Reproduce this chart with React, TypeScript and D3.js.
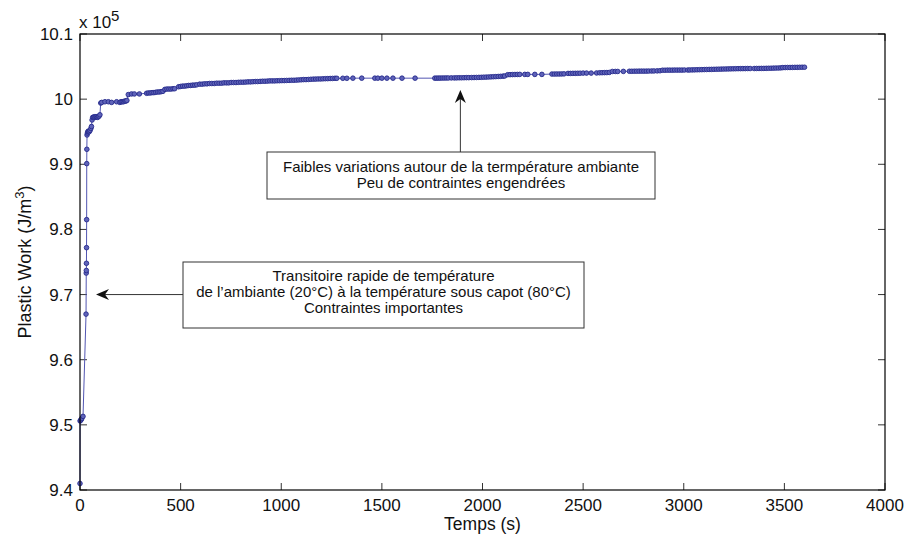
import React from "react";
import * as d3 from "d3";

// Time (s) and plastic work (x 1e5 J/m^3)
const curvePoints: [number, number][] = [
  [0, 9.41], [0.5, 9.506], [3, 9.507], [6, 9.508], [9, 9.51], [15, 9.513], [30, 9.67],
  [31, 9.733], [31.5, 9.737], [32, 9.748], [32.5, 9.772], [33, 9.815], [33.5, 9.901], [34, 9.923],
  [35, 9.945], [37, 9.948], [39, 9.95], [42, 9.951], [46, 9.95], [50, 9.952], [54, 9.955], [57, 9.958],
  [60, 9.968], [63, 9.972], [67, 9.972], [71, 9.973], [75, 9.972], [79, 9.973], [83, 9.973], [87, 9.972],
  [91, 9.973], [95, 9.974], [99, 9.976], [103, 9.994], [108, 9.995], [124, 9.996], [141, 9.996],
  [157, 9.995], [182, 9.996], [198, 9.995], [204, 9.996], [210, 9.996], [216, 9.996], [222, 9.997],
  [228, 9.997], [233, 9.998], [240, 10.007], [256, 10.008], [270, 10.008], [295, 10.008],
  [331, 10.009], [340, 10.0095], [349, 10.0095], [358, 10.01], [367, 10.01], [376, 10.0105],
  [385, 10.011], [394, 10.011], [403, 10.0115], [412, 10.012], [422, 10.015], [432, 10.0155],
  [442, 10.0155], [452, 10.0155], [462, 10.016], [470, 10.016], [490, 10.019], [500, 10.0195],
  [510, 10.02], [520, 10.02], [530, 10.0205], [540, 10.021], [550, 10.021], [560, 10.0215],
  [570, 10.0215], [580, 10.022], [595, 10.023], [607, 10.023], [619, 10.0235], [631, 10.0235],
  [643, 10.024], [655, 10.024], [667, 10.024], [679, 10.0245], [691, 10.0245], [703, 10.0245],
  [715, 10.025], [727, 10.025], [739, 10.025], [751, 10.0255], [763, 10.0255], [775, 10.0255],
  [787, 10.0258], [799, 10.026], [811, 10.026], [823, 10.0262], [835, 10.0265], [847, 10.0265],
  [859, 10.0268], [871, 10.027], [883, 10.027], [895, 10.0272], [907, 10.0275], [919, 10.0275],
  [931, 10.0277], [943, 10.028], [955, 10.028], [967, 10.028], [979, 10.0282], [991, 10.0283],
  [1003, 10.0285], [1015, 10.0285], [1027, 10.0287], [1039, 10.0288], [1051, 10.029], [1063, 10.029],
  [1075, 10.0292], [1087, 10.0295], [1099, 10.0297], [1111, 10.03], [1123, 10.03], [1135, 10.0302],
  [1147, 10.0305], [1159, 10.0307], [1171, 10.0308], [1183, 10.031], [1195, 10.031], [1207, 10.0312],
  [1219, 10.0314], [1231, 10.0315], [1243, 10.0317], [1255, 10.0318], [1267, 10.032], [1276, 10.032],
  [1306, 10.032], [1326, 10.032], [1356, 10.0322], [1400, 10.0322], [1465, 10.0322], [1480, 10.0322],
  [1500, 10.0322], [1525, 10.0322], [1555, 10.0322], [1600, 10.0322], [1665, 10.0322],
  [1763, 10.0322], [1772, 10.0322], [1781, 10.0323], [1790, 10.0323], [1800, 10.0324], [1810, 10.0324],
  [1820, 10.0325], [1830, 10.0325], [1845, 10.0326], [1860, 10.0326], [1872, 10.0327], [1884, 10.0328],
  [1896, 10.0328], [1908, 10.0329], [1920, 10.033], [1932, 10.033], [1946, 10.0331], [1958, 10.0332],
  [1970, 10.0333], [1982, 10.0334], [1994, 10.0335], [2006, 10.0337], [2018, 10.0338], [2030, 10.034],
  [2042, 10.0342], [2054, 10.0344], [2066, 10.0346], [2078, 10.0348], [2090, 10.035], [2102, 10.0353],
  [2110, 10.0355], [2125, 10.0375], [2137, 10.0376], [2149, 10.0377], [2161, 10.0378], [2173, 10.0379],
  [2185, 10.038], [2210, 10.038], [2225, 10.038], [2260, 10.038], [2295, 10.038], [2345, 10.0385],
  [2357, 10.0385], [2369, 10.0386], [2381, 10.0386], [2393, 10.0387], [2405, 10.0388], [2425, 10.0395],
  [2437, 10.0395], [2449, 10.0396], [2461, 10.0396], [2473, 10.0397], [2485, 10.0398], [2500, 10.04],
  [2517, 10.04], [2540, 10.04], [2567, 10.0402], [2582, 10.0405], [2594, 10.0406], [2606, 10.0407],
  [2618, 10.0408], [2630, 10.041], [2645, 10.0425], [2660, 10.0425], [2672, 10.0425], [2700, 10.0426],
  [2730, 10.0428], [2742, 10.0428], [2754, 10.0429], [2766, 10.0429], [2778, 10.043], [2790, 10.043],
  [2802, 10.043], [2814, 10.043], [2826, 10.0431], [2840, 10.0432], [2852, 10.0433], [2868, 10.0434],
  [2882, 10.0436], [2895, 10.0444], [2907, 10.0444], [2919, 10.0445], [2931, 10.0445], [2943, 10.0445],
  [2955, 10.0446], [2967, 10.0446], [2979, 10.0446], [2991, 10.0446], [3003, 10.0447], [3020, 10.0447],
  [3030, 10.0448], [3042, 10.0449], [3054, 10.045], [3066, 10.0451], [3078, 10.0452], [3090, 10.0453],
  [3102, 10.0454], [3114, 10.0455], [3126, 10.0456], [3138, 10.0457], [3150, 10.0458], [3162, 10.0459],
  [3174, 10.046], [3186, 10.0461], [3198, 10.0462], [3210, 10.0463], [3222, 10.0464], [3234, 10.0465],
  [3246, 10.0466], [3258, 10.0467], [3270, 10.0468], [3282, 10.0468], [3294, 10.0469], [3306, 10.0469],
  [3318, 10.047], [3330, 10.047], [3350, 10.047], [3362, 10.0471], [3374, 10.0471], [3386, 10.0472],
  [3398, 10.0472], [3410, 10.0473], [3422, 10.0474], [3434, 10.0475], [3446, 10.0476], [3458, 10.0477],
  [3470, 10.0478], [3482, 10.048], [3492, 10.0484], [3504, 10.0485], [3516, 10.0486], [3528, 10.0486],
  [3540, 10.0487], [3552, 10.0488], [3564, 10.0488], [3576, 10.0489], [3588, 10.049], [3600, 10.049],
];

const xTicks = [0, 500, 1000, 1500, 2000, 2500, 3000, 3500, 4000];
const yTicks = [9.4, 9.5, 9.6, 9.7, 9.8, 9.9, 10, 10.1];
const xLabel = "Temps (s)";
const yLabel = "Plastic Work (J/m";
const annotation1Lines = [
  "Faibles variations autour de la termpérature ambiante",
  "Peu de contraintes engendrées",
];
const annotation2Lines = [
  "Transitoire rapide de température",
  "de l\u2019ambiante (20°C) à la température sous capot (80°C)",
  "Contraintes importantes",
];

const W = 906;
const H = 535;
const left = 80;
const right = 885;
const top = 34;
const bottom = 490;
const FONT = "'Liberation Sans', Arial, Helvetica, sans-serif";

const x = d3.scaleLinear().domain([0, 4000]).range([left, right]);
const y = d3.scaleLinear().domain([9.4, 10.1]).range([bottom, top]);
const fmt = d3.format("~g");

function arrowHead(tx: number, ty: number, dx: number, dy: number) {
  const L = 13, hw = 5.5, notch = 4;
  const px = -dy, py = dx;
  const bx = tx - dx * L, by = ty - dy * L;
  const nx = tx - dx * (L - notch), ny = ty - dy * (L - notch);
  return `M${tx},${ty}L${bx + px * hw},${by + py * hw}L${nx},${ny}L${bx - px * hw},${by - py * hw}Z`;
}

export default function App() {
  const line = d3
    .line<[number, number]>()
    .x((d) => x(d[0]))
    .y((d) => y(d[1]));

  const tickLen = 7;

  const box1 = { x: 267, y: 152, w: 388, h: 47 };
  const tip1: [number, number] = [x(1890), 90];
  const box2 = { x: 183, y: 262, w: 401, h: 66 };
  const tip2: [number, number] = [96, y(9.7)];

  return (
    <div style={{ position: "absolute", left: 0, top: 0 }}>
      <svg width={W} height={H} style={{ display: "block", background: "#fff" }} fontFamily={FONT}>
        <rect x={0} y={0} width={W} height={H} fill="#fff" />
        {xTicks.map((t) => (
          <g key={"xt" + t}>
            <line x1={x(t)} x2={x(t)} y1={bottom} y2={bottom - tickLen} stroke="#333" strokeWidth={1} />
            <line x1={x(t)} x2={x(t)} y1={top} y2={top + tickLen} stroke="#333" strokeWidth={1} />
            <text x={x(t)} y={511} textAnchor="middle" fontSize={17} fill="#111">
              {fmt(t)}
            </text>
          </g>
        ))}
        {yTicks.map((t) => (
          <g key={"yt" + t}>
            <line x1={left} x2={left + tickLen} y1={y(t)} y2={y(t)} stroke="#333" strokeWidth={1} />
            <line x1={right} x2={right - tickLen} y1={y(t)} y2={y(t)} stroke="#333" strokeWidth={1} />
            <text x={73} y={y(t) + 6} textAnchor="end" fontSize={17} fill="#111">
              {fmt(t)}
            </text>
          </g>
        ))}
        <text x={79} y={28} fontSize={17} fill="#111">
          x 10
        </text>
        <text x={111} y={21} fontSize={15} fill="#111">
          5
        </text>
        <text x={(left + right) / 2} y={530} textAnchor="middle" fontSize={17.5} fill="#111">
          {xLabel}
        </text>
        <text
          transform={`translate(31, ${(top + bottom) / 2}) rotate(-90)`}
          textAnchor="middle"
          fontSize={18}
          fill="#111"
        >
          {yLabel}
          <tspan dy={-7} fontSize={13}>3</tspan>
          <tspan dy={7}>)</tspan>
        </text>

        <path d={line(curvePoints) || ""} fill="none" stroke="#5256b2" strokeWidth={1} />
        {curvePoints.map((d, i) => (
          <circle
            key={i}
            cx={x(d[0])}
            cy={y(d[1])}
            r={2.3}
            fill="#5f63b9"
            stroke="#272b8c"
            strokeWidth={0.9}
          />
        ))}

        <rect x={left} y={top} width={right - left} height={bottom - top} fill="none" stroke="#000" strokeWidth={1.2} />

        <line x1={tip1[0]} x2={tip1[0]} y1={box1.y} y2={tip1[1] + 8} stroke="#333" strokeWidth={1} />
        <path d={arrowHead(tip1[0], tip1[1], 0, -1)} fill="#111" />
        <rect x={box1.x} y={box1.y} width={box1.w} height={box1.h} fill="#fff" stroke="#333" strokeWidth={1} />
        {annotation1Lines.map((s, i) => (
          <text key={s} x={box1.x + box1.w / 2} y={box1.y + 20 + i * 16} textAnchor="middle" fontSize={15} fill="#111">
            {s}
          </text>
        ))}

        <line x1={box2.x} x2={tip2[0] + 8} y1={tip2[1]} y2={tip2[1]} stroke="#333" strokeWidth={1} />
        <path d={arrowHead(tip2[0], tip2[1], -1, 0)} fill="#111" />
        <rect x={box2.x} y={box2.y} width={box2.w} height={box2.h} fill="#fff" stroke="#333" strokeWidth={1} />
        {annotation2Lines.map((s, i) => (
          <text key={s} x={box2.x + box2.w / 2} y={box2.y + 19 + i * 16} textAnchor="middle" fontSize={15} fill="#111">
            {s}
          </text>
        ))}
      </svg>
    </div>
  );
}
